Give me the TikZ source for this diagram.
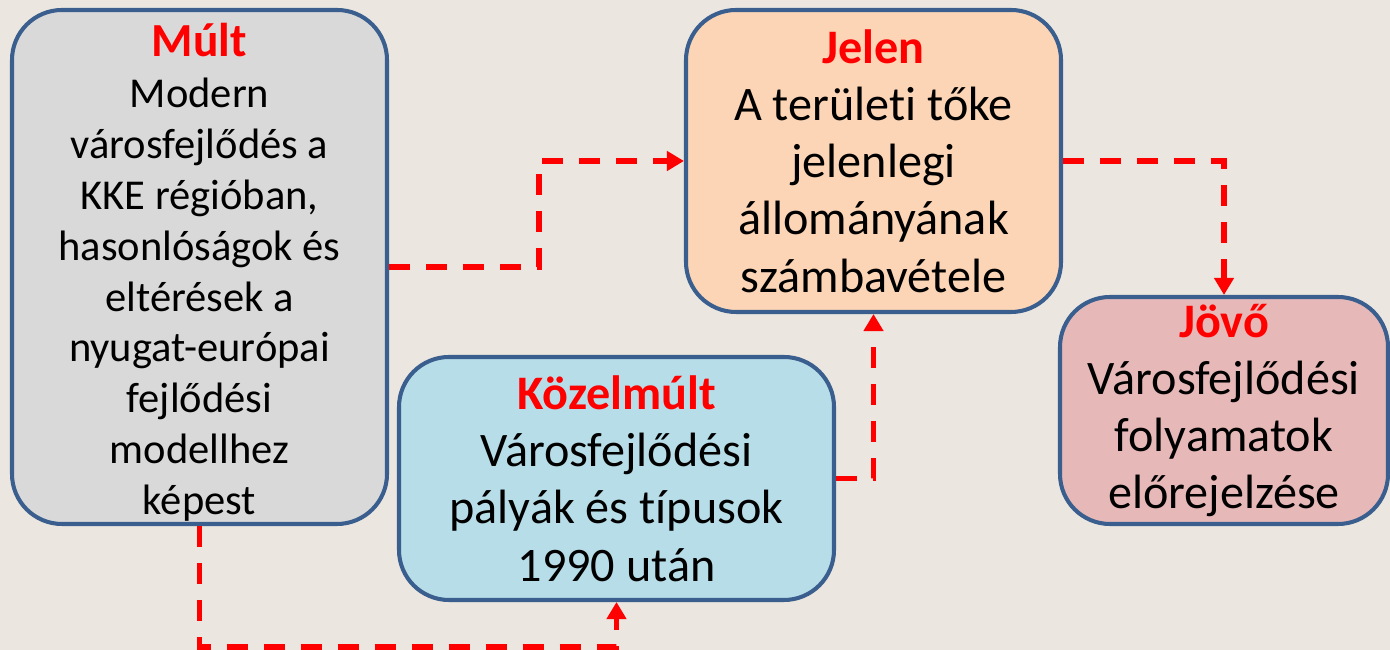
\documentclass[tikz,border=0pt]{standalone}
\usepackage{fontspec}
\setmainfont{Carlito}[Ligatures=NoCommon]
\usetikzlibrary{arrows.meta}
\usetikzlibrary{positioning}

\definecolor{bgcol}{HTML}{EBE6E0}
\definecolor{edgecol}{HTML}{3A5F8E}
\definecolor{multcol}{HTML}{D9D9D9}
\definecolor{jelencol}{HTML}{FBD5B5}
\definecolor{kozelcol}{HTML}{B7DDE8}
\definecolor{jovocol}{HTML}{E6B9B8}
\definecolor{linkcol}{HTML}{FF0000}

\begin{document}
\begin{tikzpicture}[
  era/.style={rectangle,rounded corners=1cm,draw=edgecol,line width=2.3pt,align=center,inner sep=0pt},
  big/.style={font=\fontsize{27.4}{32.6}\selectfont},
  small/.style={font=\fontsize{24.2}{29}\selectfont},
  link/.style={draw=linkcol,line width=3.1pt,dash pattern=on 0.42cm off 0.32cm,-{Triangle[length=0.34cm,width=0.38cm]}}
]
\useasboundingbox (0,0) rectangle (27.8,13);
\fill[bgcol] (0,0) rectangle (27.8,13);

\node[era,small,fill=multcol,minimum width=7.5cm,minimum height=10.28cm] (Mult) at (3.99,7.66)
  {\rule{0pt}{25pt}{\color{linkcol}\fontsize{27}{29}\selectfont\bfseries Múlt}\\Modern\\városfejlődés a\\KKE régióban,\\hasonlóságok és\\eltérések a\\nyugat-európai\\fejlődési\\modellhez\\képest};
\node[era,big,fill=jelencol,minimum width=7.5cm,minimum height=6.04cm] (Jelen) at (17.47,9.78)
  {{\color{linkcol}\bfseries Jelen}\\A területi tőke\\jelenlegi\\állományának\\számbavétele};
\node[era,big,fill=kozelcol,minimum width=8.7cm,minimum height=4.86cm] (Kozel) at (12.33,3.43)
  {{\color{linkcol}\bfseries Közelmúlt}\\Városfejlődési\\pályák és típusok\\1990 után};
\node[era,big,fill=jovocol,minimum width=6.56cm,minimum height=4.54cm] (Jovo) at (24.48,4.79)
  {{\color{linkcol}\bfseries Jövő}\\Városfejlődési\\folyamatok\\előrejelzése};

\draw[link] (Mult.east) -- ++(3,0) |- (Jelen.west);
\draw[link] (Mult.south) -- ++(0,-2.42) -| (Kozel.south);
\draw[link] (Kozel.east) -| (Jelen.south);
\draw[link] (Jelen.east) -| (Jovo.north);

\end{tikzpicture}
\end{document}
